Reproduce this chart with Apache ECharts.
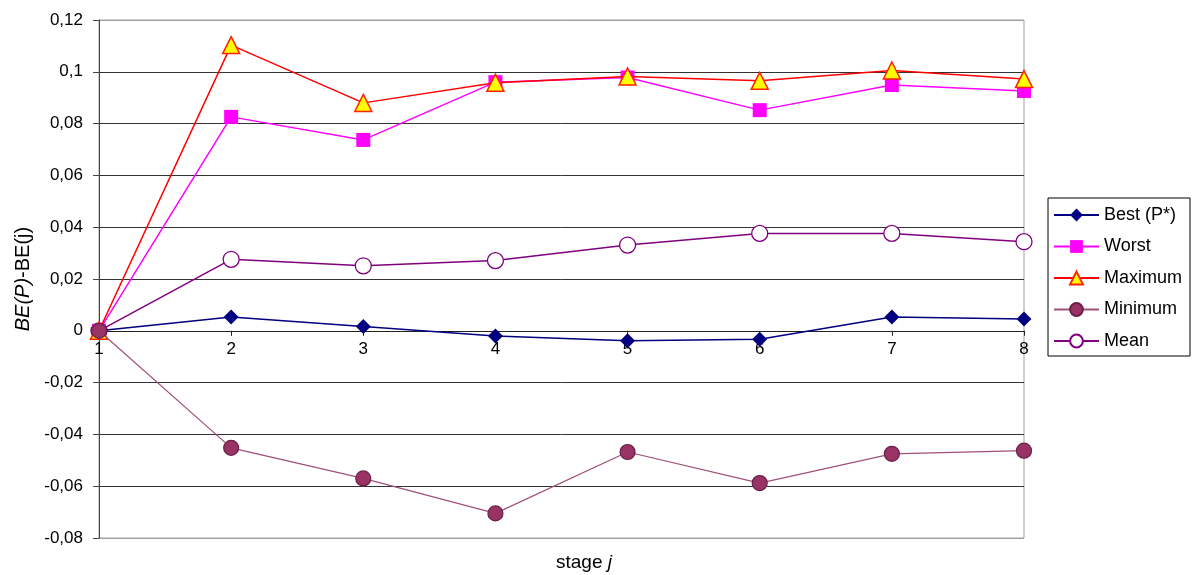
<!DOCTYPE html>
<html>
<head>
<meta charset="utf-8">
<script src="https://cdn.jsdelivr.net/npm/echarts@6/dist/echarts.min.js"></script>
<style>
html,body{margin:0;padding:0;background:#fff;}
#chart{width:1192px;height:575px;}
</style>
</head>
<body>
<div id="chart"></div>
<script>
const stages = ['1','2','3','4','5','6','7','8'];
const seriesNames = ['Best (P*)','Worst','Maximum','Minimum','Mean'];
const best    = [0, 0.0053, 0.0017, -0.0020, -0.0038, -0.0033, 0.0053, 0.0046];
const worst   = [0, 0.0826, 0.0737, 0.0960, 0.0978, 0.0852, 0.0949, 0.0926];
const maximum = [0, 0.1103, 0.0880, 0.0958, 0.0982, 0.0965, 0.1005, 0.0972];
const minimum = [0, -0.0452, -0.0570, -0.0705, -0.0468, -0.0588, -0.0475, -0.0463];
const mean    = [0, 0.0276, 0.0251, 0.0271, 0.0331, 0.0376, 0.0376, 0.0344];

const yMin = -0.08, yMax = 0.12, yStep = 0.02;
const chart = echarts.init(document.getElementById('chart'));
const font = 'Liberation Sans, Arial, sans-serif';
const gridColors = ['#a0a0a0','#333','#333','#333','#333','#333','#333','#333','#333','#333','#a0a0a0'];
const gridTop = 20, gridBottom = 37, H = 575;
const plotH = H - gridTop - gridBottom;
// put the category axis on y = 0 (offset from the bottom of the plot)
const zeroOffset = -plotH * (0 - yMin) / (yMax - yMin);

chart.setOption({
  animation: false,
  backgroundColor: '#fff',
  grid: {left: 99, right: 168, top: gridTop, bottom: gridBottom, show: true, borderColor: '#a0a0a0', borderWidth: 1},
  legend: {
    orient: 'vertical', left: 1048, top: 198,
    padding: [8, 8, 6, 5],
    itemGap: 13.5, itemWidth: 45, itemHeight: 16,
    borderColor: '#000', borderWidth: 1,
    textStyle: {fontFamily: font, fontSize: 18, color: '#000'},
    data: seriesNames
  },
  xAxis: {
    type: 'category', data: stages, boundaryGap: false,
    offset: zeroOffset,
    axisLine: {onZero: false, lineStyle: {color: '#222', width: 1}},
    axisTick: {show: true, length: 5, lineStyle: {color: '#222'}},
    axisLabel: {fontFamily: font, fontSize: 17, color: '#000', margin: 10}
  },
  yAxis: {
    type: 'value', min: yMin, max: yMax, interval: yStep,
    axisLine: {show: true, lineStyle: {color: '#444'}},
    axisTick: {show: true, length: 6, lineStyle: {color: '#444'}},
    axisLabel: {fontFamily: font, fontSize: 17, color: '#000', margin: 16,
      formatter: v => (Math.round(v*100)/100).toString().replace('.', ',')},
    splitLine: {show: true, lineStyle: {color: gridColors, width: 1}},
    name: '{i|BE(P)}{n|-BE(j)}',
    nameLocation: 'middle', nameRotate: 90, nameGap: 64,
    nameTextStyle: {rich: {
      i: {fontFamily: font, fontSize: 20, fontStyle: 'italic', color: '#000'},
      n: {fontFamily: font, fontSize: 20, color: '#000'}
    }}
  },
  graphic: [{
    type: 'text', left: 556, top: 553,
    style: {
      text: '{n|stage }{i|j}',
      rich: {
        n: {fontFamily: font, fontSize: 19, fill: '#000'},
        i: {fontFamily: font, fontSize: 19, fontStyle: 'italic', fill: '#000'}
      }
    }
  }],
  series: [
    {name: seriesNames[0], type: 'line', data: best, z: 3,
      symbol: 'diamond', symbolSize: 15,
      lineStyle: {color: '#000080', width: 1.5},
      itemStyle: {color: '#000080'}},
    {name: seriesNames[1], type: 'line', data: worst, z: 3,
      symbol: 'rect', symbolSize: 14,
      lineStyle: {color: '#ff00ff', width: 1.5},
      itemStyle: {color: '#ff00ff'}},
    {name: seriesNames[2], type: 'line', data: maximum, z: 4,
      symbol: 'triangle', symbolSize: 17,
      lineStyle: {color: '#ff0000', width: 1.5},
      itemStyle: {color: '#ffff00', borderColor: '#ff2200', borderWidth: 1.5}},
    {name: seriesNames[3], type: 'line', data: minimum, z: 5,
      symbol: 'circle', symbolSize: 15,
      lineStyle: {color: '#a0507a', width: 1.2},
      itemStyle: {color: '#993366', borderColor: '#6a1f48', borderWidth: 1.2}},
    {name: seriesNames[4], type: 'line', data: mean, z: 2,
      symbol: 'circle', symbolSize: 16, showAllSymbol: true,
      lineStyle: {color: '#800080', width: 1.5},
      itemStyle: {color: '#ffffff', borderColor: '#800080', borderWidth: 1.3}}
  ]
});
</script>
</body>
</html>
